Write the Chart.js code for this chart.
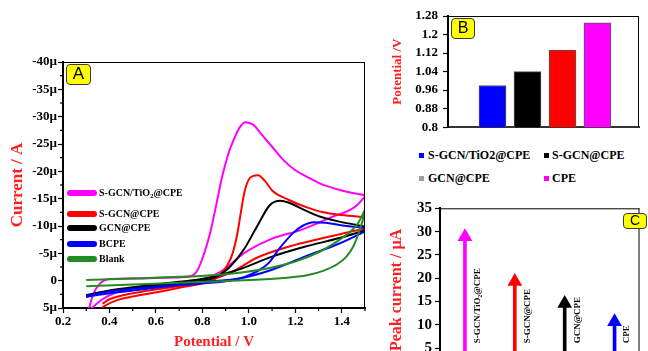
<!DOCTYPE html>
<html><head><meta charset="utf-8">
<script src="https://cdn.jsdelivr.net/npm/chart.js@4.4.1/dist/chart.umd.min.js"></script>
<style>
html,body{margin:0;padding:0;background:#fff;}
body{width:648px;height:351px;overflow:hidden;position:relative;}
canvas{position:absolute;}
.box{position:absolute;background:#ffff00;border:1.5px solid #3a3a3a;border-radius:4px;box-sizing:border-box;font-family:'Liberation Sans',Arial,sans-serif;color:#000;text-align:center;}
.lg{position:absolute;font-family:'Liberation Serif','Times New Roman',serif;font-weight:bold;color:#000;white-space:nowrap;line-height:1;}
.sw{position:absolute;border-radius:3px;}
.mk{position:absolute;width:5px;height:5px;}
sub{font-size:0.7em;vertical-align:-0.25em;line-height:0;}
</style></head><body>
<canvas id="cA" width="380" height="351" style="left:0;top:0"></canvas>
<canvas id="cB" width="268" height="140" style="left:380px;top:0"></canvas>
<canvas id="cC" width="268" height="200" style="left:380px;top:195px"></canvas>
<div id="legA"></div>
<div id="legB"></div>
<div class="box" style="left:66px;top:64px;width:25px;height:21px;font-size:17px;line-height:18px">A</div>
<div class="box" style="left:451px;top:18px;width:24px;height:21px;font-size:16px;line-height:18px">B</div>
<div class="box" style="left:623px;top:213px;width:24px;height:16px;font-size:14px;line-height:13px">C</div>
<script>
// ---------- Panel A : cyclic voltammograms (current in µA, plotted with anodic negative up) ----------
const cvNames  = ['S-GCN/TiO2@CPE','S-GCN@CPE','GCN@CPE','BCPE','Blank'];
const cvColors = ['#ff00ff','#ff0000','#000000','#0000ff','#228b22'];

const tio2FwdV = [0.31,0.33,0.36,0.40,0.50,0.60,0.70,0.75,0.78,0.81,0.835,0.855,0.885,0.91,0.93,0.96,0.985,1.02,1.05,1.10,1.15,1.20,1.25,1.30,1.40,1.50];
const tio2FwdI = [5.4,2.5,0.5,-0.3,-0.4,-0.5,-0.6,-0.8,-2,-5.3,-9,-12.9,-19,-23,-25.3,-28,-29,-28.5,-27,-24.5,-22,-20.2,-19,-17.9,-16.5,-15.6];
const tio2RevV = [0.32,0.34,0.37,0.42,0.50,0.60,0.70,0.75,0.80,0.85,0.90,0.96,1.00,1.10,1.22,1.30,1.36,1.43,1.47,1.50];
const tio2RevI = [5.2,4.4,3.4,2.3,1.4,0.8,0.6,0.4,-0.2,-1.0,-2.2,-4.4,-5.6,-7.7,-9.2,-10.6,-11.7,-12.8,-14,-15.4];

const sgcnFwdV = [0.37,0.40,0.50,0.60,0.70,0.80,0.85,0.87,0.89,0.91,0.93,0.95,0.965,0.98,1.005,1.04,1.07,1.10,1.17,1.25,1.32,1.40,1.50];
const sgcnFwdI = [4.2,3.4,2.3,1.6,1.0,0.3,-0.3,-0.8,-1.8,-3.0,-5.0,-8.5,-12.3,-16.0,-18.8,-19.3,-18.2,-16.5,-14.8,-13.4,-12.5,-12,-11.6];
const sgcnRevV = [0.36,0.38,0.43,0.50,0.62,0.70,0.80,0.85,0.93,1.03,1.17,1.32,1.40,1.50];
const sgcnRevI = [5.2,4.6,3.6,2.9,2.0,1.3,0.5,-0.3,-1.6,-4.1,-6.2,-7.8,-8.6,-9.5];

const gcnFwdV = [0.30,0.35,0.45,0.55,0.65,0.75,0.85,0.88,0.92,0.977,1.035,1.09,1.135,1.17,1.24,1.30,1.39,1.50];
const gcnFwdI = [3.0,2.3,1.6,1.1,0.7,0.3,-0.5,-1.2,-2.6,-5.6,-9.9,-13.8,-14.6,-14.3,-12.9,-11.8,-10.8,-9.9];
const gcnRevV = [0.30,0.40,0.50,0.60,0.70,0.81,0.96,1.10,1.24,1.39,1.50];
const gcnRevI = [2.6,1.8,1.2,0.7,0.2,-0.4,-2.1,-4.4,-6.2,-7.8,-9.2];

const bcpeFwdV = [0.30,0.40,0.50,0.60,0.70,0.80,0.90,0.96,1.00,1.04,1.085,1.13,1.19,1.23,1.28,1.33,1.39,1.50];
const bcpeFwdI = [2.8,2.0,1.5,1.1,0.8,0.5,0.1,-0.4,-1.0,-1.8,-3.2,-5.8,-8.7,-10,-10.7,-10.6,-10.2,-9.6];
const bcpeRevV = [0.30,0.40,0.50,0.60,0.70,0.81,0.96,1.10,1.24,1.39,1.50];
const bcpeRevI = [2.9,2.3,1.8,1.3,0.8,0.2,-0.4,-2.0,-4.4,-6.8,-9.0];

const blankFwdV = [0.30,0.50,0.70,0.81,0.95,1.10,1.20,1.30,1.38,1.43,1.47,1.50];
const blankFwdI = [-0.1,-0.4,-0.7,-0.9,-1.4,-2.4,-3.5,-5.2,-7.2,-8.7,-10.5,-13];
const blankRevV = [0.30,0.50,0.70,0.81,1.00,1.15,1.25,1.32,1.38,1.42,1.45,1.475,1.49,1.50];
const blankRevI = [1.0,0.7,0.4,0.2,-0.1,-0.5,-1.0,-1.8,-3.0,-4.4,-6.3,-9.0,-11,-13];

const xTicksA = [0.2,0.4,0.6,0.8,1.0,1.2,1.4];
const xMinorA = [0.3,0.5,0.7,0.9,1.1,1.3,1.5];
const yMinorA = [-37.5,-32.5,-27.5,-22.5,-17.5,-12.5,-7.5,-2.5,2.5];

// ---------- Panel B : peak potentials ----------
const potCats   = ['S-GCN/TiO2@CPE','S-GCN@CPE','GCN@CPE','CPE'];
const potPos    = [1,2,3,4];
const potValues = [0.98,1.04,1.133,1.25];
const potColors = ['#0000ff','#000000','#ff0000','#ff00ff'];
const potTicks  = [0.8,0.88,0.96,1.04,1.12,1.2,1.28];
const legBNames  = ['S-GCN/TiO2@CPE','S-GCN@CPE','GCN@CPE','CPE'];
const legBColors = ['#0000ff','#000000','#a0a0a0','#ff00ff'];

// ---------- Panel C : peak currents ----------
const curCats   = ['S-GCN/TiO\u2082@CPE','S-GCN@CPE','GCN@CPE','CPE'];
const curPos    = [1,2,3,4];
const curValues = [28.9,19.3,14.6,10.7];
const curColors = ['#ff00ff','#ff0000','#000000','#0000ff'];

Chart.defaults.font.family = "'Liberation Serif','Times New Roman',serif";
Chart.defaults.color = '#000';

const framePlugin = {
  id:'frame',
  afterDraw(chart, args, opts){
    const {ctx, chartArea:a} = chart;
    ctx.save();
    ctx.strokeStyle = '#000'; ctx.lineWidth = 1;
    ctx.beginPath();
    ctx.moveTo(a.left, a.top + 0.5); ctx.lineTo(a.right, a.top + 0.5);
    ctx.moveTo(a.right - 0.5, a.top); ctx.lineTo(a.right - 0.5, a.bottom);
    ctx.stroke();
    (opts.minor || []).forEach(m => {
      const s = chart.scales[m.axis];
      m.values.forEach(v => {
        const p = s.getPixelForValue(v);
        ctx.beginPath();
        if (m.axis === 'x') { ctx.moveTo(p, a.bottom); ctx.lineTo(p, a.bottom + m.len); }
        else { ctx.moveTo(a.left, p); ctx.lineTo(a.left - m.len, p); }
        ctx.lineWidth = 1.2; ctx.stroke();
      });
    });
    ctx.restore();
  }
};

function pts(vs, is){ return vs.map((v,k)=>({x:v, y:is[k]})); }
const branches = [
  [tio2FwdV,tio2FwdI,tio2RevV,tio2RevI],
  [sgcnFwdV,sgcnFwdI,sgcnRevV,sgcnRevI],
  [gcnFwdV,gcnFwdI,gcnRevV,gcnRevI],
  [bcpeFwdV,bcpeFwdI,bcpeRevV,bcpeRevI],
  [blankFwdV,blankFwdI,blankRevV,blankRevI]
];
const dsA = [];
branches.forEach((b,k)=>{
  [[b[0],b[1]],[b[2],b[3]]].forEach(p=>{
    dsA.push({label:cvNames[k], data:pts(p[0],p[1]), showLine:true, borderColor:cvColors[k],
      borderWidth:2, pointRadius:0, cubicInterpolationMode:'monotone', fill:false, order:5-k});
  });
});

const tickFont = s => ({size:s, weight:'bold', family:"'Liberation Serif','Times New Roman',serif"});
const axisGrid = {drawOnChartArea:false, drawTicks:true, tickLength:5, tickColor:'#000', tickWidth:1.2};
const axisBorder = {display:true, color:'#000', width:2};

new Chart(document.getElementById('cA'), {
  type:'scatter',
  data:{datasets:dsA},
  options:{
    responsive:false, animation:false, events:[],
    layout:{padding:{left:0, top:62, right:15, bottom:0}},
    plugins:{legend:{display:false}, tooltip:{enabled:false},
      frame:{minor:[{axis:'x', values:xMinorA, len:3},{axis:'y', values:yMinorA, len:3}]}},
    scales:{
      x:{type:'linear', min:0.2, max:1.5, offset:false,
        afterFit:s=>{s.height=43;},
        afterBuildTicks:s=>{s.ticks = xTicksA.map(v=>({value:v}));},
        ticks:{padding:1, font:tickFont(13), callback:v=>Number(v).toFixed(1), maxRotation:0, autoSkip:false},
        grid:axisGrid, border:axisBorder,
        title:{display:true, text:'Potential / V', color:'#ff2020', font:tickFont(15), padding:{top:0,bottom:0}}},
      y:{type:'linear', min:-40, max:5, reverse:true,
        afterFit:s=>{s.width=63;},
        ticks:{stepSize:5, padding:1, font:tickFont(13), callback:v=>v===0?'0':v+'µ', autoSkip:false},
        grid:axisGrid, border:axisBorder,
        title:{display:true, text:'Current / A', color:'#ff2020', font:tickFont(17), padding:{top:7,bottom:0}}}
    }
  },
  plugins:[framePlugin]
});

// Legend A
(function(){
  const rowsY = [193.3,214,228.3,244.3,259.3];
  let h = '';
  cvNames.forEach((n,k)=>{
    h += `<div class="sw" style="left:67px;top:${rowsY[k]-3}px;width:30px;height:6px;background:${cvColors[k]}"></div>`;
    h += `<div class="lg" style="left:99px;top:${rowsY[k]-5}px;font-size:10px">${n.replace('TiO2','TiO<sub>2</sub>')}</div>`;
  });
  document.getElementById('legA').innerHTML = h;
})();

// ---------- Panel B ----------
new Chart(document.getElementById('cB'), {
  type:'bar',
  data:{datasets:[{label:'Potential', data:potPos.map((p,k)=>({x:p, y:potValues[k]})),
    backgroundColor:potColors, borderColor:'#555', borderWidth:1, barThickness:27}]},
  options:{
    responsive:false, animation:false, events:[],
    layout:{padding:{left:0, top:16, right:9, bottom:0}},
    plugins:{legend:{display:false}, tooltip:{enabled:false}, frame:{}},
    scales:{
      x:{type:'linear', min:-0.271, max:5.186, offset:false,
        afterFit:s=>{s.height=8;}, ticks:{display:false}, grid:{display:false},
        border:{display:true, color:'#333', width:2}},
      y:{type:'linear', min:0.8, max:1.28,
        afterFit:s=>{s.width=68;},
        afterBuildTicks:s=>{s.ticks = potTicks.map(v=>({value:v}));},
        ticks:{padding:5, font:tickFont(13), callback:v=>String(+Number(v).toFixed(2)), autoSkip:false},
        grid:axisGrid, border:axisBorder,
        title:{display:true, text:'Potential /V', color:'#ff2020', font:tickFont(13), padding:{top:10,bottom:0}}}
    }
  },
  plugins:[framePlugin]
});

(function(){
  const rowY = [155,178], colM = [419,544], colT = [428,552];
  let h = '';
  legBNames.forEach((n,k)=>{
    const r = Math.floor(k/2), c = k%2;
    h += `<div class="mk" style="left:${colM[c]}px;top:${rowY[r]-2.5}px;background:${legBColors[k]}"></div>`;
    h += `<div class="lg" style="left:${colT[c]}px;top:${rowY[r]-6}px;font-size:12px">${n}</div>`;
  });
  document.getElementById('legB').innerHTML = h;
})();

// ---------- Panel C ----------
const arrowLabelPlugin = {
  id:'arrowLabels',
  afterDatasetsDraw(chart){
    const {ctx} = chart, xs = chart.scales.x, ys = chart.scales.y;
    ctx.save();
    ctx.font = "bold 9px 'Liberation Serif','Times New Roman',serif";
    ctx.fillStyle = '#000'; ctx.textAlign = 'left'; ctx.textBaseline = 'middle';
    curCats.forEach((n,k)=>{
      const x = xs.getPixelForValue(curPos[k]) + 12.5;
      const y = ys.getPixelForValue(5) - 5;
      ctx.save(); ctx.translate(x,y); ctx.rotate(-Math.PI/2); ctx.fillText(n,0,0); ctx.restore();
    });
    ctx.restore();
  }
};

new Chart(document.getElementById('cC'), {
  type:'bar',
  data:{datasets:[
    {type:'scatter', label:'head', data:curPos.map((p,k)=>({x:p, y:curValues[k]})),
      pointStyle:'triangle', pointRadius:8.5, pointBackgroundColor:curColors, pointBorderColor:curColors, pointBorderWidth:0, order:0},
    {type:'bar', label:'shaft', data:curPos.map((p,k)=>({x:p, y:curValues[k]})),
      backgroundColor:curColors, borderWidth:0, barThickness:3, order:1}
  ]},
  options:{
    responsive:false, animation:false, events:[],
    layout:{padding:{left:0, top:13.3, right:1, bottom:0}},
    plugins:{legend:{display:false}, tooltip:{enabled:false}, frame:{}},
    scales:{
      x:{type:'linear', min:0.5, max:4.5, offset:false,
        afterFit:s=>{s.height=23.4;}, ticks:{display:false}, grid:{display:false},
        border:{display:true, color:'#000', width:2}},
      y:{type:'linear', min:0, max:35,
        afterFit:s=>{s.width=60;},
        ticks:{stepSize:5, padding:3, font:tickFont(15), autoSkip:false},
        grid:axisGrid, border:axisBorder,
        title:{display:true, text:'Peak current / µA', color:'#ff2020', font:tickFont(16), padding:{top:7,bottom:0}}}
    }
  },
  plugins:[framePlugin, arrowLabelPlugin]
});
</script>
</body></html>
